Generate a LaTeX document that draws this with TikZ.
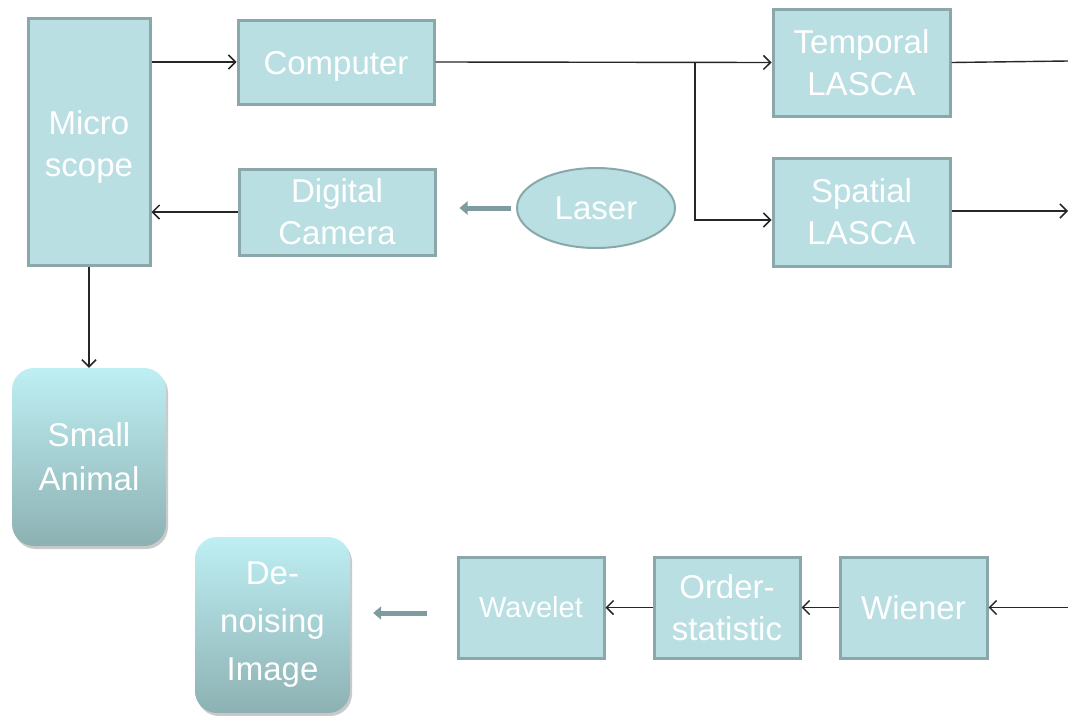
\documentclass[tikz,border=0pt]{standalone}
\usepackage{fontspec}
\setmainfont{Liberation Sans}
\usetikzlibrary{arrows.meta,shapes.geometric,shadows}
\definecolor{boxfill}{HTML}{B9DFE3}
\definecolor{boxline}{HTML}{8AA8AA}
\definecolor{gtop}{HTML}{BEEFF3}
\definecolor{gbot}{HTML}{8DB1B3}
\definecolor{thickgray}{HTML}{7E9C9E}
\tikzset{
  blockbox/.style={draw=boxline, line width=3pt, fill=boxfill, text=white,
    inner sep=0pt, align=center, font=\fontsize{33}{42}\selectfont},
  boxtext/.style={text=white, inner sep=0pt, align=center, font=\fontsize{33}{42}\selectfont},
  roundbox/.style={rounded corners=22pt, top color=gtop, bottom color=gbot,
    draw=none, text=white, inner sep=0pt, align=center,
    drop shadow={shadow xshift=2pt, shadow yshift=-3pt, opacity=0.35, fill=black!60}},
  ovalbox/.style={ellipse, draw=boxline, line width=2pt, fill=boxfill, text=white,
    inner sep=0pt, font=\fontsize{33}{42}\selectfont},
  conn/.style={line width=1.4pt, black!85},
  connarr/.style={conn, -{Straight Barb[length=7pt,width=14pt,line width=1.5pt]}},
  bigarr/.style={line width=5pt, thickgray, -{Triangle[length=8pt,width=13pt]}},
}
\begin{document}
\begin{tikzpicture}[x=1pt,y=-1pt]
\useasboundingbox (0,0) rectangle (1068,715);
% nodes
\node[blockbox, minimum width=122, minimum height=247,
  label={[name=microtext, boxtext, yshift=-5pt]center:Micro\\scope}] (micro) at (89,141.5) {};
\node[blockbox, minimum width=196, minimum height=84,
  label={[name=comptext, boxtext, yshift=-4pt]center:Computer}] (comp) at (336,62) {};
\node[blockbox, minimum width=196, minimum height=86] (cam) at (337,212) {Digital\\Camera};
\node[ovalbox, minimum width=158, minimum height=80] (laser) at (596,208) {Laser};
\node[blockbox, minimum width=177, minimum height=107] (temp) at (861.5,62.5) {Temporal\\LASCA};
\node[blockbox, minimum width=177, minimum height=108] (spat) at (861.5,212) {Spatial\\LASCA};
\node[roundbox, minimum width=154, minimum height=178, font=\fontsize{33}{44}\selectfont] (animal) at (89,457) {Small\\Animal};
\node[roundbox, minimum width=155, minimum height=176, font=\fontsize{33}{48}\selectfont] (denoise) at (272.5,625) {De-\\noising\\Image};
\node[blockbox, minimum width=146, minimum height=101, font=\fontsize{29}{42}\selectfont] (wave) at (531,607.5) {Wavelet};
\node[blockbox, minimum width=146, minimum height=101] (order) at (727,607.5) {Order-\\statistic};
\node[blockbox, minimum width=147, minimum height=101] (wiener) at (913.5,607.5) {Wiener};
% free ends
\coordinate (br) at (695,62);
\coordinate (rt) at (1068,61);
\coordinate (rs) at (1068,211);
\coordinate (rin) at (1068,607.5);
% connectors
\draw[connarr] (micro.east |- comp.west) -- (comp.west);
\draw[connarr] (cam.west) -- (cam.west -| micro.east);
\draw[connarr] (micro.south) -- (animal.north);
\draw[connarr] (comp.east) -- (temp.west);
\draw[connarr] (br) |- ([yshift=-8pt]spat.west);
\draw[conn] (temp.east) -- (rt);
\draw[connarr] ([yshift=1pt]spat.east) -- (rs);
\draw[connarr] (rin) -- (wiener.east);
\draw[connarr] (wiener.west) -- (order.east);
\draw[connarr] (order.west) -- (wave.east);
\draw[bigarr] ([xshift=-5pt]laser.west) -- ([xshift=23pt]laser.west -| cam.east);
\draw[bigarr] ([xshift=-30pt,yshift=-5.5pt]wave.west) -- ([xshift=23pt,yshift=-5.5pt]wave.west -| denoise.east);
\end{tikzpicture}
\end{document}
